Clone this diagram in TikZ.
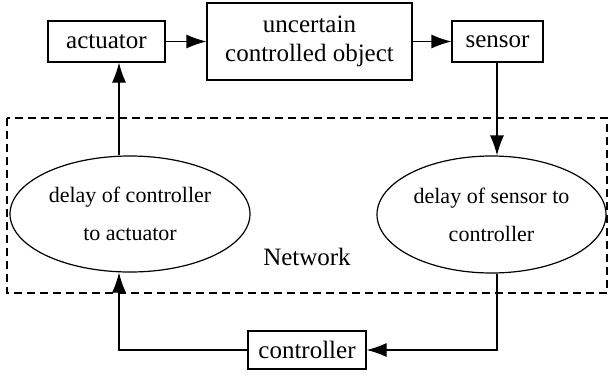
\documentclass[tikz,border=0pt]{standalone}
\usepackage{fontspec}
\setmainfont{Liberation Serif}
\usetikzlibrary{arrows.meta,shapes.geometric}
\begin{document}
\begin{tikzpicture}[x=1pt,y=-1pt,
  box/.style={draw,line width=1.2pt,inner sep=0pt,align=center,
    font=\fontsize{25}{29}\selectfont},
  oval/.style={draw,ellipse,line width=1.2pt,inner sep=0pt,align=center,
    font=\fontsize{22}{38}\selectfont},
  arr/.style={line width=1.2pt,-{Latex[length=20pt,width=14pt]}},
  netframe/.style={line width=1.2pt,dash pattern=on 8pt off 5pt}]
\fill[white] (0,0) rectangle (608,376);
\useasboundingbox (0,0) rectangle (608,376);

% network region
\draw[netframe] (7,118) rectangle (607,293);
\node[font=\fontsize{25}{29}\selectfont] (net) at (307,257) {Network};

% plant loop
\node[box,minimum width=117pt,minimum height=41pt] (act) at (106.5,41.5) {actuator};
\node[box,minimum width=205pt,minimum height=77pt] (unc) at (309.5,41.5) {uncertain\\controlled object};
\node[box,minimum width=91pt,minimum height=41pt] (sen) at (497.5,41.5) {sensor};
\node[box,minimum width=118pt,minimum height=38pt] (ctl) at (307,350) {controller};

% network delays
\node[oval,minimum width=240pt,minimum height=116pt] (le) at (130,214) {delay of controller\\to actuator};
\node[oval,minimum width=229pt,minimum height=117pt] (re) at (491.5,214.5) {delay of sensor to\\controller};

% vertical guide lines of the connectors
\coordinate (lx) at (119,0);
\coordinate (rx) at (497,0);

\draw[arr] (act) -- (unc);
\draw[arr] (unc) -- (sen);
\draw[arr] (sen.south -| rx) -- (re.north -| rx);
\draw[arr] (re.south -| rx) |- (ctl.east);
\draw[arr] (ctl.west) -| (le.south -| lx);
\draw[arr] (le.north -| lx) -- (act.south -| lx);
\end{tikzpicture}
\end{document}
